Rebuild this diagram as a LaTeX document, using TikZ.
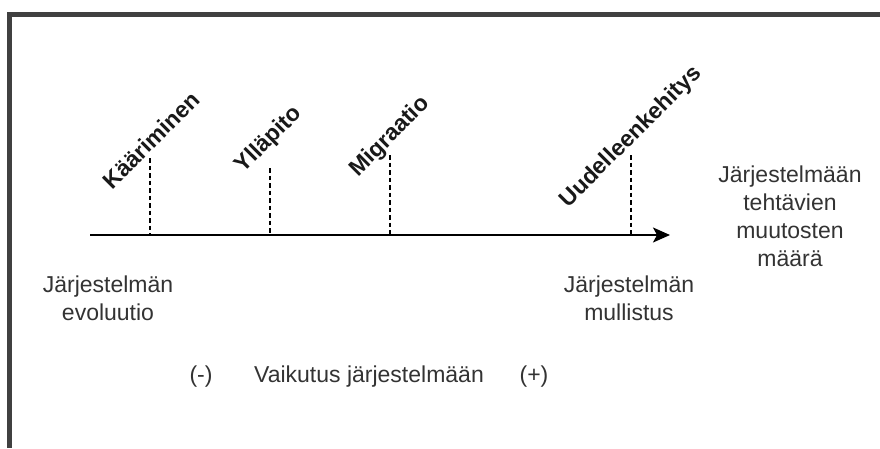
\documentclass[tikz,border=0pt]{standalone}
\usepackage{fontspec}
\setmainfont{Liberation Sans}
\usetikzlibrary{arrows.meta}

\begin{document}
\begin{tikzpicture}[x=1pt, y=-1pt,
    every node/.style={font=\fontsize{23}{28}\selectfont, text=black!80, inner sep=0pt, align=center},
    tag/.style={font=\fontsize{23}{28}\selectfont\bfseries, text=black!90, rotate=45},
    tick/.style={dash pattern=on 4.5pt off 3pt, line width=1.4pt},
    frame/.style={line width=4.5pt, draw=black!75}]
    \useasboundingbox (0,0) rectangle (880,448);

    % Frame
    \draw[frame] (880,14.5) -| (9.5,448);

    % Axis
    \coordinate (start) at (90,235);
    \coordinate (end) at (670,235);
    \draw[line width=2pt, -{Stealth[length=17pt, width=15pt, inset=4pt]}] (start) -- (end);

    % Rotated labels
    \node (kaar) [tag] at (151,140) {Kääriminen};
    \node (yll) [tag] at (269,140) {Ylläpito};
    \node (migr) [tag] at (390,137) {Migraatio};
    \node (uude) [tag] at (631,137) {Uudelleenkehitys};

    % Ticks
    \coordinate (kaartop) at (150,158);
    \coordinate (kaarfoot) at (150,235);
    \coordinate (ylltop) at (270,168);
    \coordinate (yllfoot) at (270,235);
    \coordinate (migrtop) at (390,155);
    \coordinate (migrfoot) at (390,235);
    \coordinate (uudetop) at (631,155);
    \coordinate (uudefoot) at (631,235);
    \draw[tick] (kaartop) -- (kaarfoot);
    \draw[tick] (ylltop) -- (yllfoot);
    \draw[tick] (migrtop) -- (migrfoot);
    \draw[tick] (uudetop) -- (uudefoot);

    % Texts
    \node (evol) at (108,298) {Järjestelmän\\evoluutio};
    \node (mull) at (629,298) {Järjestelmän\\mullistus};
    \node (maara) at (790,216) {Järjestelmään\\tehtävien\\muutosten\\määrä};
    \node (minus) at (201,377) {(-)};
    \node (vaik) at (369,377) {Vaikutus järjestelmään};
    \node (plus) at (534,377) {(+)};
\end{tikzpicture}
\end{document}
